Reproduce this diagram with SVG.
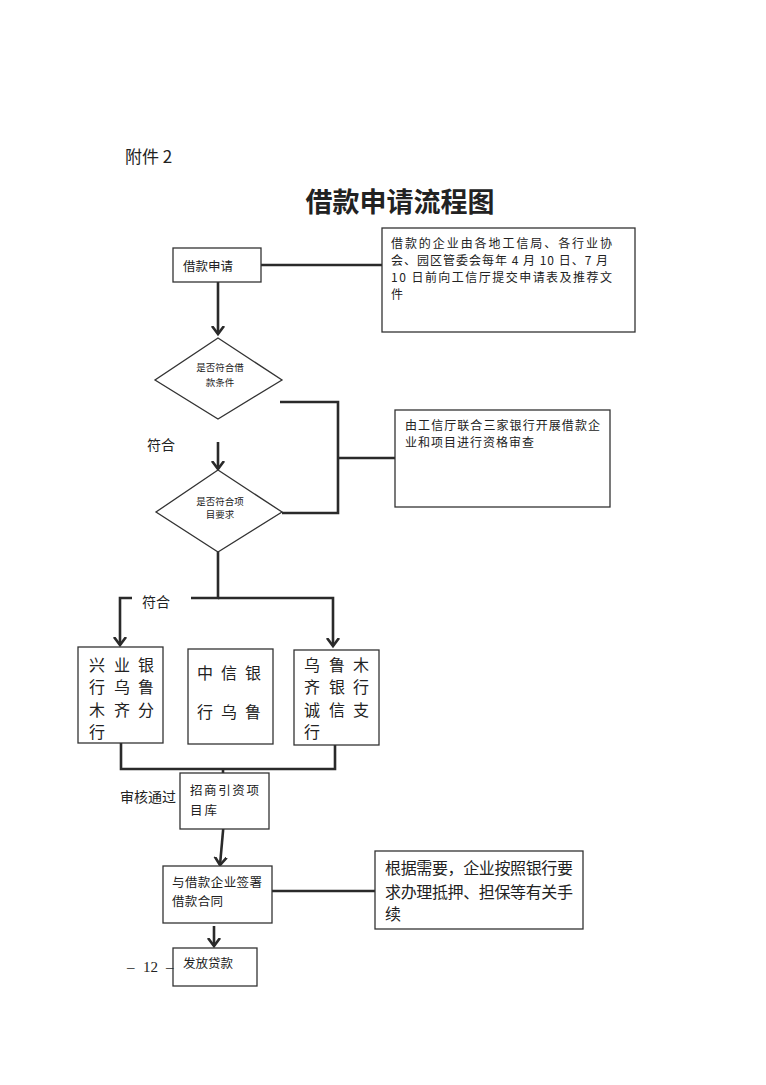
<svg xmlns="http://www.w3.org/2000/svg" width="766" height="1085" viewBox="0 0 766 1085">
<style>
.box{fill:#fff;stroke:#333;stroke-width:1.3}
.ln{fill:none;stroke:#2a2a2a;stroke-width:2.6}
.t{font-family:"Noto Sans CJK SC","Liberation Serif",serif;fill:#222}
.s{font-family:"Liberation Serif","Noto Sans CJK SC",serif;fill:#222}
</style>
<defs>
<marker id="ah" markerUnits="userSpaceOnUse" markerWidth="16" markerHeight="16" refX="8" refY="8" orient="auto">
<path d="M0,2 L8,8 L0,14" fill="none" stroke="#2a2a2a" stroke-width="2.6"/>
</marker>
</defs>
<rect width="766" height="1085" fill="#fff"/>
<text class="t" x="125" y="163" font-size="17">附件 2</text>
<text class="t" x="400" y="212" font-size="27" font-weight="bold" text-anchor="middle">借款申请流程图</text>

<g id="connectors">
<line class="ln" x1="261" y1="265" x2="382" y2="265"/>
<line class="ln" x1="218" y1="282" x2="218" y2="334" marker-end="url(#ah)"/>
<polyline class="ln" points="280,402 338,402 338,513 282,513"/>
<line class="ln" x1="338" y1="458" x2="395" y2="458"/>
<line class="ln" x1="218" y1="442" x2="218" y2="469" marker-end="url(#ah)"/>
<polyline class="ln" points="218,552 218,598 191,598"/>
<polyline class="ln" points="218,598 333,598 333,646" marker-end="url(#ah)"/>
<polyline class="ln" points="132,598 120,598 120,645" marker-end="url(#ah)"/>
<polyline class="ln" points="121,743 121,769 335,769 335,745"/>
<line class="ln" x1="223" y1="769" x2="223" y2="773"/>
<line class="ln" x1="224" y1="820" x2="220" y2="865" marker-end="url(#ah)"/>
<line class="ln" x1="217" y1="891" x2="375" y2="891"/>
<line class="ln" x1="214" y1="926" x2="214" y2="946" marker-end="url(#ah)"/>
</g>

<g id="n_apply">
<rect class="box" x="173" y="248" width="88" height="34"/>
<text class="t" x="183" y="271" font-size="12.5">借款申请</text>
</g>
<g id="n_note1">
<rect class="box" x="382" y="228" width="253" height="104"/>
<g class="t" font-size="12">
<text x="391" y="248" textLength="221" lengthAdjust="spacing">借款的企业由各地工信局、各行业协</text>
<text x="391" y="265" textLength="217" lengthAdjust="spacing">会、园区管委会每年 4 月 10 日、7 月</text>
<text x="391" y="282" textLength="221" lengthAdjust="spacing">10 日前向工信厅提交申请表及推荐文</text>
<text x="391" y="299">件</text>
</g>
</g>
<g id="n_cond1">
<polygon class="box" points="218,338 282,380 218,419 155,380" stroke-width="2.2"/>
<text class="t" x="220" y="371" font-size="9.5" text-anchor="middle">是否符合借</text>
<text class="t" x="220" y="386" font-size="9.5" text-anchor="middle">款条件</text>
</g>
<text class="t" x="147" y="450" font-size="14">符合</text>
<g id="n_note2">
<rect class="box" x="395" y="410" width="215" height="97"/>
<text class="t" x="405" y="430" font-size="12" textLength="195" lengthAdjust="spacing">由工信厅联合三家银行开展借款企</text>
<text class="t" x="405" y="447" font-size="12" textLength="129" lengthAdjust="spacing">业和项目进行资格审查</text>
</g>
<g id="n_cond2">
<polygon class="box" points="218,470 282,512 218,552 156,512" stroke-width="2.2"/>
<text class="t" x="220" y="505" font-size="9.5" text-anchor="middle">是否符合项</text>
<text class="t" x="220" y="518" font-size="9.5" text-anchor="middle">目要求</text>
</g>
<text class="t" x="142" y="607" font-size="14">符合</text>
<g id="n_bankA">
<rect class="box" x="78" y="647" width="85" height="96"/>
<g class="t" font-size="16" text-anchor="middle">
<text x="97 122 146" y="671">兴业银</text>
<text x="97 122 146" y="693">行乌鲁</text>
<text x="97 122 146" y="716">木齐分</text>
<text x="97" y="738">行</text>
</g>
</g>
<g id="n_bankB">
<rect class="box" x="188" y="649" width="85" height="95"/>
<g class="t" font-size="16" text-anchor="middle">
<text x="205 229 253" y="679">中信银</text>
<text x="205 229 253" y="718">行乌鲁</text>
</g>
</g>
<g id="n_bankC">
<rect class="box" x="294" y="650" width="85" height="95"/>
<g class="t" font-size="16" text-anchor="middle">
<text x="312 337 361" y="671">乌鲁木</text>
<text x="312 337 361" y="693">齐银行</text>
<text x="312 337 361" y="716">诚信支</text>
<text x="312" y="738">行</text>
</g>
</g>
<text class="t" x="120" y="802" font-size="14">审核通过</text>
<g id="n_lib">
<rect class="box" x="180" y="773" width="89" height="56"/>
<text class="t" x="190" y="795" font-size="12.5" textLength="69" lengthAdjust="spacing">招商引资项</text>
<text class="t" x="190" y="815" font-size="12.5" textLength="27" lengthAdjust="spacing">目库</text>
</g>
<g id="n_sign">
<rect class="box" x="163" y="866" width="109" height="57"/>
<text class="t" x="172" y="887" font-size="12.5" textLength="90" lengthAdjust="spacing">与借款企业签署</text>
<text class="t" x="172" y="906" font-size="12.5" textLength="51" lengthAdjust="spacing">借款合同</text>
</g>
<g id="n_note3">
<rect class="box" x="375" y="851" width="208" height="78"/>
<g class="t" font-size="16">
<text x="385" y="874" textLength="188" lengthAdjust="spacing">根据需要，企业按照银行要</text>
<text x="385" y="898" textLength="188" lengthAdjust="spacing">求办理抵押、担保等有关手</text>
<text x="385" y="920">续</text>
</g>
</g>
<g id="n_loan">
<rect class="box" x="173" y="948" width="84" height="38"/>
<text class="t" x="183" y="968" font-size="12.5">发放贷款</text>
</g>
<text class="s" font-size="15" y="972"><tspan x="127">–</tspan><tspan x="143">12</tspan><tspan x="166">–</tspan></text>
</svg>
